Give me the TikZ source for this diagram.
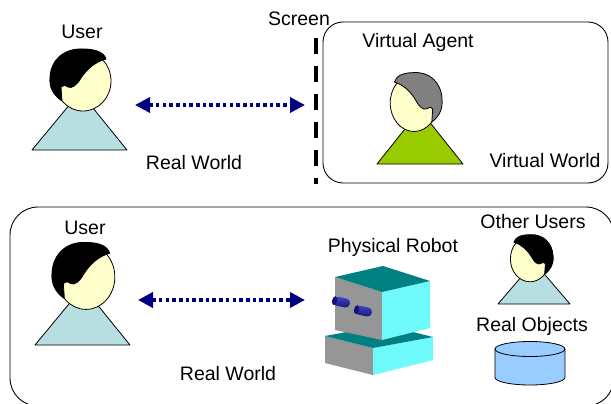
\documentclass[tikz,border=0pt]{standalone}
\usepackage{fontspec}
\setmainfont{Liberation Sans}
\usetikzlibrary{arrows.meta}

\definecolor{facecol}{RGB}{255,255,204}
\definecolor{bodycol}{RGB}{183,222,224}
\definecolor{agentbody}{RGB}{153,204,0}
\definecolor{agenthair}{RGB}{128,128,128}
\definecolor{linkcol}{RGB}{0,0,128}
\definecolor{robottop}{RGB}{0,128,128}
\definecolor{robotside}{RGB}{150,150,150}
\definecolor{robotfront}{RGB}{110,250,250}
\definecolor{eyedark}{RGB}{20,20,120}
\definecolor{eyemid}{RGB}{70,70,200}
\definecolor{drum}{RGB}{153,204,255}

\tikzset{
  % a head: face plus a hair piece sweeping over the upper left
  pics/head/.style={code={
    \filldraw[fill=facecol, draw=black, line width=0.8pt]
      (0,0) ellipse [x radius=28, y radius=30];
    \filldraw[fill=#1, draw=black, line width=0.8pt]
      (-21,20) .. controls (-30,14) and (-34,6) .. (-33,-4)
      .. controls (-32,-22) and (-18,-33) .. (0,-32)
      .. controls (12,-32) and (21,-29) .. (23,-22)
      .. controls (12,-19) and (4,-12) .. (-2,-3)
      .. controls (-6,4) and (-11,8) .. (-15,6)
      .. controls (-18,4) and (-20,4) .. (-22,6)
      -- cycle;
  }}
}

\begin{document}
\begin{tikzpicture}[x=1pt, y=-1pt, line join=round,
  lbl/.style={font=\fontsize{19.5}{23}\selectfont, inner sep=0pt},
  frame/.style={draw=black, line width=0.9pt},
  torso/.style={draw=black, line width=0.8pt},
  link/.style={draw=linkcol, line width=3.6pt, dash pattern=on 3.6pt off 3.1pt,
    {Triangle[length=15pt,width=15pt]}-{Triangle[length=15pt,width=15pt]}},
  screenline/.style={draw=black, line width=4.5pt, dash pattern=on 16pt off 12pt},
  eye/.style={top color=eyemid, middle color=white, bottom color=eyedark, rounded corners=4pt}
]
\useasboundingbox (0,0) rectangle (611,404);

% ---------- upper scene: user facing a virtual agent on a screen ----------
\draw[frame, rounded corners=20pt] (323,22) rectangle (608,183);

\node[lbl] (userTopLbl) at (82,32) {User};
\filldraw[fill=bodycol, torso] (32,150) -- (80,92) -- (127,150) -- cycle;
\pic (userTop) at (83,81) {head=black};

\node[lbl] (screenLbl) at (299,19) {Screen};
\coordinate (scrTop) at (316,38);
\coordinate (scrBot) at (316,184);
\draw[screenline] (scrTop) -- (scrBot);

\coordinate (linkTopL) at (135,105);
\coordinate (linkTopR) at (305,105);
\draw[link] (linkTopL) -- (linkTopR);

\node[lbl] (realTopLbl) at (194,163) {Real World};

\node[lbl] (agentLbl) at (418,42) {Virtual Agent};
\filldraw[fill=agentbody, torso] (377,164) -- (420,110) -- (463,164) -- cycle;
\pic[xscale=-0.85, yscale=0.95] (agent) at (414,103) {head=agenthair};
\node[lbl] (virtLbl) at (545,161) {Virtual World};

% ---------- lower scene: user with a physical robot ----------
\draw[frame, rounded corners=28pt] (10,207) rectangle (614,406);

\node[lbl] (userBotLbl) at (85,228) {User};
\filldraw[fill=bodycol, torso] (35,345) -- (83,287) -- (130,345) -- cycle;
\pic[xscale=1.03, yscale=1.08] (userBot) at (86,277) {head=black};

\coordinate (linkBotL) at (138,300);
\coordinate (linkBotR) at (305,300);
\draw[link] (linkBotL) -- (linkBotR);

\node[lbl] (realBotLbl) at (228,374) {Real World};

% robot
\node[lbl] (robotLbl) at (393,247) {Physical Robot};
% base slab
\fill[robotside] (325,336) -- (373,348) -- (373,375) -- (325,363) -- cycle;
\fill[robotfront] (373,348) -- (433,337) -- (433,360) -- (373,375) -- cycle;
\fill[robottop] (325,336) -- (385,325) -- (433,337) -- (373,348) -- cycle;
% head cube
\fill[robotside] (335,277) -- (382,292) -- (382,340) -- (335,330) -- cycle;
\fill[robotfront] (382,292) -- (430,281) -- (430,328) -- (382,340) -- cycle;
\fill[robottop] (335,277) -- (383,266) -- (430,281) -- (382,292) -- cycle;
% eyes
\shade[eye, rotate around={-12:(341,302)}] (333,297.5) rectangle (350,306.5);
\fill[eyedark, rotate around={-12:(341,302)}] (334.5,302) ellipse [x radius=2.5, y radius=4.5];
\shade[eye, rotate around={-12:(363,311)}] (355,306.5) rectangle (372,315.5);
\fill[eyedark, rotate around={-12:(363,311)}] (356.5,311) ellipse [x radius=2.5, y radius=4.5];

% other users
\node[lbl] (otherLbl) at (533,222) {Other Users};
\filldraw[fill=bodycol, torso] (498,304) -- (534,262) -- (570,304) -- cycle;
\pic[xscale=-0.7, yscale=0.76] (other) at (530,259) {head=black};

% real objects
\node[lbl] (objLbl) at (532,326) {Real Objects};
\filldraw[fill=drum, torso] (495,349) -- (495,377.5)
  arc [start angle=180, end angle=0, x radius=35, y radius=7.5] -- (565,349) -- cycle;
\filldraw[fill=drum, torso] (530,349) ellipse [x radius=35, y radius=7.5];
\end{tikzpicture}
\end{document}
